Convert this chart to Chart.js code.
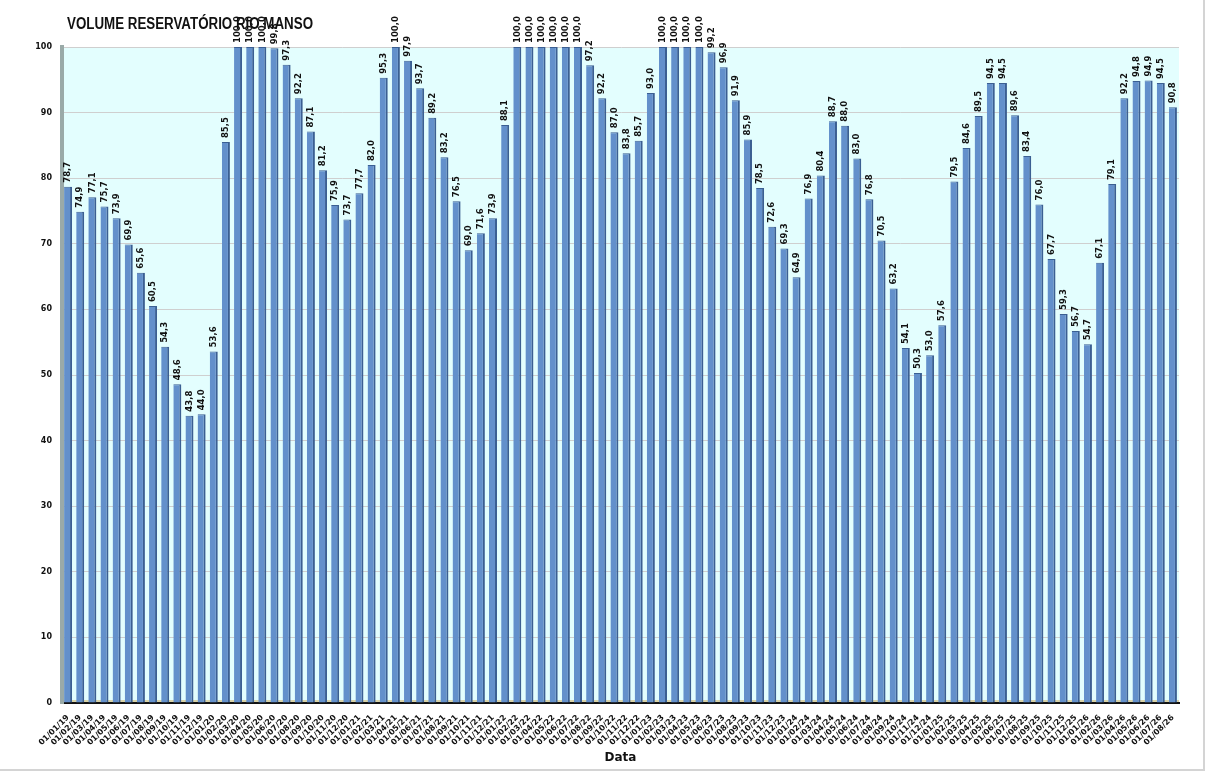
<!DOCTYPE html>
<html>
<head>
<meta charset="utf-8">
<script src="https://cdn.jsdelivr.net/npm/chart.js@4"></script>
<style>
  html, body { margin: 0; padding: 0; background: #fff; }
  #wrap { position: relative; width: 1205px; height: 771px; box-sizing: border-box; border-right: 2px solid #d4d4d4; border-bottom: 2px solid #d4d4d4; }
</style>
</head>
<body>
<div id="wrap"><canvas id="chart"></canvas></div>
<script>
// Datos del volumen mensal (%)
const titleText = 'VOLUME RESERVATÓRIO RIO MANSO';
const axisTitle = 'Data';
const years = ['19', '20', '21', '22', '23', '24', '25', '26'];
const vol2019 = [78.7, 74.9, 77.1, 75.7, 73.9, 69.9, 65.6, 60.5, 54.3, 48.6, 43.8, 44.0];
const vol2020 = [53.6, 85.5, 100.0, 100.0, 100.0, 99.8, 97.3, 92.2, 87.1, 81.2, 75.9, 73.7];
const vol2021 = [77.7, 82.0, 95.3, 100.0, 97.9, 93.7, 89.2, 83.2, 76.5, 69.0, 71.6, 73.9];
const vol2022 = [88.1, 100.0, 100.0, 100.0, 100.0, 100.0, 100.0, 97.2, 92.2, 87.0, 83.8, 85.7];
const vol2023 = [93.0, 100.0, 100.0, 100.0, 100.0, 99.2, 96.9, 91.9, 85.9, 78.5, 72.6, 69.3];
const vol2024 = [64.9, 76.9, 80.4, 88.7, 88.0, 83.0, 76.8, 70.5, 63.2, 54.1, 50.3, 53.0];
const vol2025 = [57.6, 79.5, 84.6, 89.5, 94.5, 94.5, 89.6, 83.4, 76.0, 67.7, 59.3, 56.7];
const vol2026 = [54.7, 67.1, 79.1, 92.2, 94.8, 94.9, 94.5, 90.8];
const yTicks = [0, 10, 20, 30, 40, 50, 60, 70, 80, 90, 100];

const values = [].concat(vol2019, vol2020, vol2021, vol2022, vol2023, vol2024, vol2025, vol2026);

// etiquetas 01/MM/AA
const labels = [];
years.forEach(y => {
    for (let m = 1; m <= 12; m++) {
        if (labels.length < values.length) {
            labels.push('01/' + String(m).padStart(2, '0') + '/' + y);
        }
    }
});

const fmt = v => v.toFixed(1).replace('.', ',');

// fondo del área y título
const backgroundPlugin = {
    id: 'background',
    beforeDraw(chart) {
        const { ctx, chartArea } = chart;
        ctx.save();
        ctx.fillStyle = '#E3FEFE';
        ctx.fillRect(chartArea.left, chartArea.top, chartArea.right - chartArea.left, chartArea.bottom - chartArea.top);
        // suelo
        ctx.fillStyle = '#D8D3A8';
        ctx.fillRect(chartArea.left, chartArea.bottom - 3, chartArea.right - chartArea.left, 3);
        ctx.restore();
    },
    afterDraw(chart) {
        const { ctx } = chart;
        ctx.save();
        ctx.fillStyle = '#111';
        ctx.font = 'bold 16px "Liberation Sans", Arial, sans-serif';
        ctx.textBaseline = 'middle';
        // título más estrecho (fuente tipo Calibri)
        const w = ctx.measureText(titleText).width;
        ctx.translate(67, 25);
        ctx.scale(246 / w, 1);
        ctx.fillText(titleText, 0, 0);
        ctx.restore();
    }
};

// valores verticales encima de las barras
const valueLabels = {
    id: 'valueLabels',
    afterDatasetsDraw(chart) {
        const { ctx } = chart;
        const meta = chart.getDatasetMeta(0);
        ctx.save();
        ctx.fillStyle = '#111';
        ctx.font = 'bold 8.5px "DejaVu Sans", sans-serif';
        ctx.textAlign = 'left';
        ctx.textBaseline = 'middle';
        meta.data.forEach((bar, i) => {
            ctx.save();
            ctx.translate(bar.x, bar.y - 4);
            ctx.rotate(-Math.PI / 2);
            ctx.fillText(fmt(values[i]), 0, 0);
            ctx.restore();
        });
        ctx.restore();
    }
};

const ctx = document.getElementById('chart').getContext('2d');
new Chart(ctx, {
    type: 'bar',
    data: {
        labels: labels,
        datasets: [{
            data: values,
            backgroundColor: '#6390CB',
            borderColor: '#3B5F92',
            borderWidth: { left: 0, right: 2, top: 1, bottom: 0 },
            barPercentage: 0.66,
            categoryPercentage: 1.0
        }]
    },
    options: {
        responsive: true,
        maintainAspectRatio: false,
        animation: false,
        layout: { padding: { top: 47, right: 24, bottom: 4, left: 0 } },
        plugins: {
            legend: { display: false },
            tooltip: { enabled: false }
        },
        scales: {
            x: {
                grid: { display: false },
                border: { color: '#111', width: 2 },
                ticks: {
                    autoSkip: false,
                    maxRotation: 45,
                    minRotation: 45,
                    color: '#111',
                    padding: 2,
                    font: { family: '"DejaVu Sans", sans-serif', size: 8, weight: 'bold' }
                },
                title: {
                    display: true,
                    text: axisTitle,
                    color: '#111',
                    padding: { top: 0, bottom: 0 },
                    font: { family: '"DejaVu Sans", sans-serif', size: 12, weight: 'bold' }
                },
                afterFit(scale) { scale.height = 62; }
            },
            y: {
                min: 0,
                max: 100,
                afterBuildTicks(scale) { scale.ticks = yTicks.map(v => ({ value: v })); },
                grid: { color: '#CFCFCF', lineWidth: 1, drawTicks: false },
                border: { color: '#9AAAA8', width: 4 },
                ticks: {
                    color: '#111',
                    padding: 10,
                    font: { family: '"DejaVu Sans", sans-serif', size: 8, weight: 'bold' }
                },
                afterFit(scale) { scale.width = 62; }
            }
        }
    },
    plugins: [backgroundPlugin, valueLabels]
});
</script>
</body>
</html>
